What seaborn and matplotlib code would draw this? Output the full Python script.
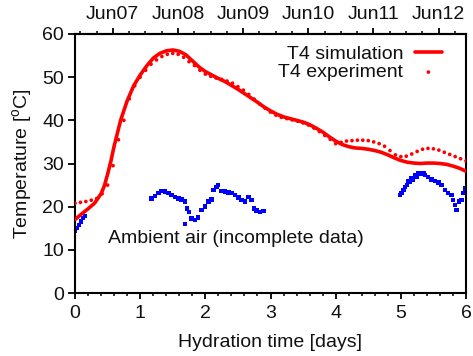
import numpy as np
import pandas as pd
import matplotlib
matplotlib.use("Agg")
import matplotlib.pyplot as plt
import seaborn as sns

# Simulated temperature of point T4 (days, degC)
sim_days = [0.0, 0.1, 0.2, 0.3, 0.4, 0.45, 0.5, 0.55, 0.6, 0.65, 0.7, 0.8, 0.9,
            1.0, 1.1, 1.2, 1.3, 1.4, 1.5, 1.6, 1.7, 1.8, 1.9, 2.0, 2.1, 2.2,
            2.3, 2.4, 2.5, 2.6, 2.7, 2.8, 2.9, 3.0, 3.1, 3.2, 3.3, 3.4, 3.5,
            3.6, 3.7, 3.8, 3.9, 4.0, 4.1, 4.2, 4.3, 4.4, 4.5, 4.6, 4.7, 4.8,
            4.9, 5.0, 5.1, 5.2, 5.3, 5.4, 5.5, 5.6, 5.7, 5.8, 5.9, 6.0]
sim_temp = [17.0, 18.3, 19.5, 20.8, 23.0, 24.8, 27.5, 30.5, 34.0, 37.0, 40.0,
            44.5, 48.0, 50.5, 52.6, 54.4, 55.5, 56.1, 56.3, 56.0, 55.2, 53.8,
            52.4, 51.3, 50.5, 49.7, 49.0, 48.1, 47.2, 46.2, 45.2, 44.2, 43.1,
            42.2, 41.4, 40.8, 40.4, 40.0, 39.6, 39.0, 38.2, 37.3, 36.2, 35.2,
            34.4, 33.9, 33.6, 33.5, 33.3, 33.0, 32.6, 32.0, 31.3, 30.7, 30.3,
            30.1, 30.0, 30.1, 30.1, 30.0, 29.8, 29.4, 28.9, 28.2]

# Measured temperature of point T4, logged every two hours
exp_temp = [20.8, 21.0, 21.2, 21.5, 21.9, 23.0, 25.0, 29.5, 35.5, 40.0, 45.0,
            48.0, 50.0, 51.6, 53.0, 54.0, 54.8, 55.3, 55.5, 55.3, 54.6, 53.6,
            52.7, 51.6, 50.7, 50.2, 49.8, 49.5, 49.1, 48.6, 47.8, 47.0, 46.0,
            44.9, 43.8, 42.8, 41.9, 41.2, 40.7, 40.4, 40.1, 39.8, 39.4, 38.9,
            38.2, 37.4, 36.5, 35.6, 34.6, 34.9, 35.2, 35.3, 35.4, 35.4, 35.3,
            35.0, 34.6, 34.0, 33.0, 32.0, 31.6, 31.7, 32.2, 32.8, 33.3, 33.5,
            33.4, 33.1, 32.6, 32.1, 31.6, 31.1, 30.6]
exp_days = [i / 12 for i in range(len(exp_temp))]

# Ambient air temperature (logger gaps leave three pieces)
air_days = [0.0, 0.03, 0.06, 0.09, 0.12, 0.15,
            1.176, 1.228, 1.279, 1.330, 1.381, 1.432, 1.483, 1.534, 1.586,
            1.637, 1.688, 1.688, 1.723, 1.754, 1.790, 1.841, 1.892, 1.944,
            1.995, 2.046, 2.097, 2.123, 2.174, 2.199, 2.250, 2.302, 2.353,
            2.404, 2.455, 2.506, 2.557, 2.609, 2.660, 2.711, 2.747, 2.788,
            2.839, 2.890,
            4.987, 5.013, 5.040, 5.064, 5.090, 5.115, 5.140, 5.166, 5.190,
            5.217, 5.240, 5.268, 5.290, 5.319, 5.345, 5.370, 5.421, 5.473,
            5.524, 5.575, 5.626, 5.677, 5.728, 5.780, 5.805, 5.831, 5.856,
            5.897, 5.933, 5.958, 5.984]
air_temp = [14.3, 15.0, 15.8, 16.6, 17.4, 17.9,
            21.9, 22.5, 23.2, 23.6, 23.5, 23.1, 22.7, 22.3, 21.9,
            21.7, 21.2, 16.0, 19.6, 18.8, 17.3, 16.9, 17.5, 19.2,
            20.0, 21.2, 21.7, 23.9, 24.6, 25.0, 23.6, 23.5, 23.3,
            23.1, 22.7, 22.1, 21.5, 21.2, 22.3, 21.5, 19.6, 19.1,
            18.8, 19.0,
            22.7, 23.1, 23.9, 24.6, 25.0, 25.8, 25.8, 26.6, 26.3,
            27.3, 26.9, 27.7, 27.6, 27.7, 27.7, 27.3, 26.9, 26.3,
            25.9, 25.6, 25.0, 23.9, 23.2, 22.7, 21.5, 20.4, 19.2,
            21.2, 21.5, 23.1, 24.2]

# Calendar dates on the top axis (day offset of each midnight)
date_labels = ["Jun07", "Jun08", "Jun09", "Jun10", "Jun11", "Jun12"]
first_midnight = 0.58

sns.set_theme(style="ticks")
plt.rcParams["font.family"] = ["Liberation Sans", "DejaVu Sans"]
plt.rcParams["mathtext.fontset"] = "custom"
plt.rcParams["mathtext.rm"] = "Liberation Sans"
plt.rcParams["mathtext.it"] = "Liberation Sans:italic"
FS = 14
INK = "#111111"

sim = pd.DataFrame({"day": sim_days, "temp": sim_temp})
exp = pd.DataFrame({"day": exp_days, "temp": exp_temp})
air = pd.DataFrame({"day": air_days, "temp": air_temp})

fig = plt.figure(figsize=(4.73, 3.56), dpi=100)
ax = fig.add_axes([75 / 473, 1 - 293 / 356, 391 / 473, 259 / 356])

sns.scatterplot(data=air, x="day", y="temp", ax=ax, marker="s", s=10,
                color="#0000ff", edgecolor="none", linewidth=0, zorder=2)
sns.lineplot(data=sim, x="day", y="temp", ax=ax, color="#ff0000", lw=2.6,
             label="T4 simulation", zorder=3)
sns.scatterplot(data=exp, x="day", y="temp", ax=ax, marker="o", s=7,
                color="#ff0000", edgecolor="none", linewidth=0,
                label="T4 experiment", zorder=4)

ax.set_xlim(0, 6)
ax.set_ylim(0, 60)
ax.set_xticks(range(0, 7))
ax.set_xticks(np.arange(0, 6.01, 0.2), minor=True)
ax.set_yticks(range(0, 61, 10))
ax.set_xlabel("Hydration time [days]", fontsize=FS, labelpad=8, color=INK)
ax.set_ylabel(r"Temperature [$^{\mathrm{o}}$C]", fontsize=FS, labelpad=6,
              color=INK)
ax.tick_params(axis="x", which="major", direction="out", length=4, width=1.3,
               labelsize=FS, pad=5, color="black", labelcolor=INK)
ax.tick_params(axis="x", which="minor", direction="out", length=2.2, width=1.1,
               color="black")
ax.tick_params(axis="y", which="major", direction="out", length=5, width=1.3,
               labelsize=FS, pad=3, color="black", labelcolor=INK)
for side in ["left", "right", "top", "bottom"]:
    ax.spines[side].set_visible(True)
    ax.spines[side].set_linewidth(1.5)
    ax.spines[side].set_color("black")

top = ax.secondary_xaxis("top")
top.set_xticks([first_midnight + i for i in range(len(date_labels))])
top.set_xticklabels(date_labels)
top.set_xticks(np.arange(first_midnight - 0.5, 6.0, 0.25), minor=True)
top.tick_params(axis="x", which="major", direction="out", length=4, width=1.3,
                labelsize=FS, pad=4, color="black", labelcolor=INK)
top.tick_params(axis="x", which="minor", direction="out", length=2.2,
                width=1.1, color="black")
top.spines["top"].set_linewidth(1.5)

ax.annotate("Ambient air (incomplete data)", xy=(0.5, 12.7), fontsize=FS,
            ha="left", va="center", color=INK)

leg = ax.legend(loc="upper right", bbox_to_anchor=(1 - 24 / 391, 1 - 11 / 259),
                frameon=False, markerfirst=False, fontsize=FS,
                handlelength=1.4, handletextpad=0.6, labelspacing=0.05,
                borderpad=0, borderaxespad=0, markerscale=1.0)
for t in leg.get_texts():
    t.set_color(INK)

fig.savefig("out.png", dpi=100)
